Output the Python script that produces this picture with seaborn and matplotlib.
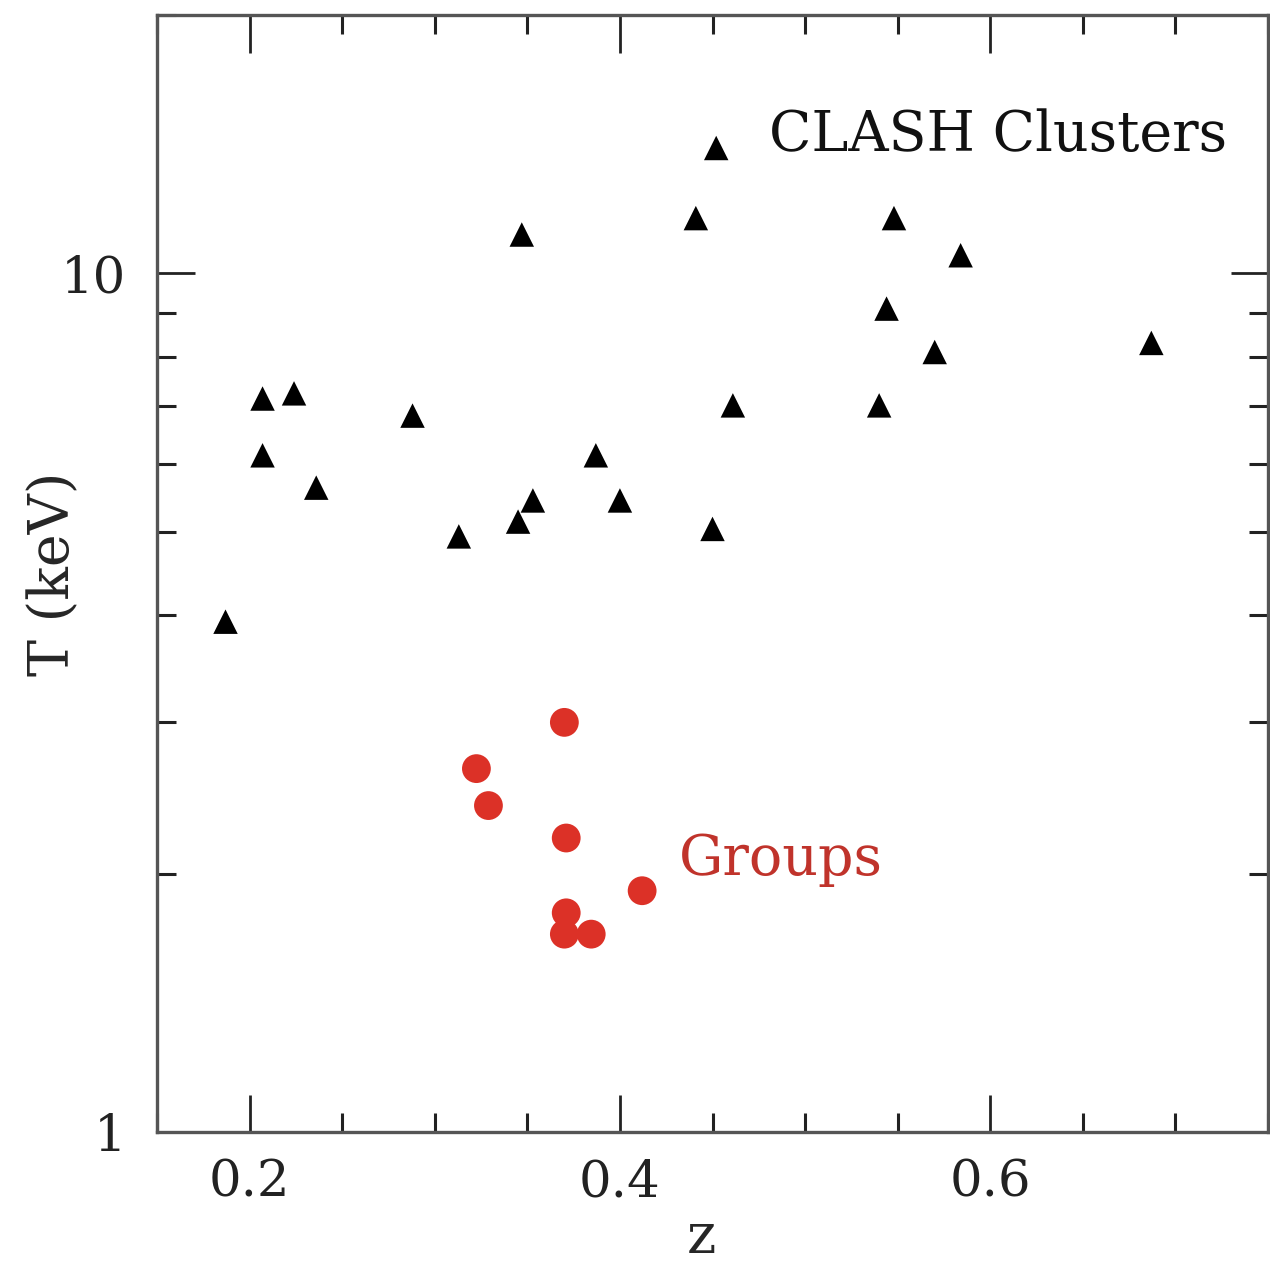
import matplotlib
matplotlib.use("Agg")
import matplotlib.pyplot as plt
import matplotlib.ticker as mticker
import seaborn as sns
import pandas as pd

# CLASH clusters (triangles)
cluster_z = [0.452, 0.441, 0.548, 0.347, 0.584, 0.544, 0.570, 0.687,
             0.207, 0.224, 0.288, 0.461, 0.540, 0.207, 0.387, 0.236,
             0.353, 0.400, 0.345, 0.313, 0.450, 0.187]
cluster_T = [14.0, 11.6, 11.6, 11.1, 10.5, 9.1, 8.1, 8.3,
             7.15, 7.25, 6.83, 7.02, 7.02, 6.14, 6.14, 5.63,
             5.44, 5.44, 5.14, 4.94, 5.04, 3.93]

# Groups (red circles)
group_z = [0.370, 0.3225, 0.329, 0.371, 0.412, 0.371, 0.370, 0.3845]
group_T = [3.00, 2.65, 2.40, 2.20, 1.91, 1.80, 1.70, 1.70]

x_ticks = [0.2, 0.4, 0.6]
x_ticklabels = ["0.2", "0.4", "0.6"]
y_ticks = [1, 10]
y_ticklabels = ["1", "10"]

clusters = pd.DataFrame({"z": cluster_z, "T": cluster_T})
groups = pd.DataFrame({"z": group_z, "T": group_T})

sns.set_theme(style="ticks")
plt.rcParams["font.family"] = ["DejaVu Serif", "DejaVu Sans"]

fig = plt.figure(figsize=(12.70, 12.64), dpi=100)
ax = fig.add_axes([157 / 1270, 1 - 1132 / 1264, (1268 - 157) / 1270, (1132 - 15) / 1264])

sns.scatterplot(data=clusters, x="z", y="T", marker="^", s=310, color="black",
                edgecolor="none", ax=ax, legend=False)
sns.scatterplot(data=groups, x="z", y="T", marker="o", s=430, color="#dc3127",
                edgecolor="none", ax=ax, legend=False)

ax.set_yscale("log")
ax.set_xlim(0.15, 0.75)
ax.set_ylim(1, 20)

ax.xaxis.set_major_locator(mticker.FixedLocator(x_ticks))
ax.xaxis.set_major_formatter(mticker.FixedFormatter(x_ticklabels))
ax.xaxis.set_minor_locator(mticker.MultipleLocator(0.05))
ax.yaxis.set_major_locator(mticker.FixedLocator(y_ticks))
ax.yaxis.set_major_formatter(mticker.FixedFormatter(y_ticklabels))
ax.yaxis.set_minor_locator(mticker.LogLocator(base=10, subs=range(2, 10), numticks=20))
ax.yaxis.set_minor_formatter(mticker.NullFormatter())

ax.tick_params(which="both", direction="in", top=True, right=True,
               labelsize=37, colors="#222222")
ax.tick_params(which="major", length=27, width=2)
ax.tick_params(which="minor", length=14, width=2.2)
ax.tick_params(axis="x", which="major", pad=19)
ax.tick_params(axis="y", which="major", pad=22)

for sp in ax.spines.values():
    sp.set_linewidth(2.4)
    sp.set_color("#555555")

ax.set_xlabel("z", fontsize=40)
ax.set_ylabel("T (keV)", fontsize=40)
ax.xaxis.set_label_coords(0.49, -0.070)
ax.yaxis.set_label_coords(-0.068, 0.5)

ax.text(0.4805, 13.9, "CLASH Clusters", fontsize=40, color="#111111",
        ha="left", va="baseline")
ax.text(0.432, 1.99, "Groups", fontsize=40, color="#c0332b",
        ha="left", va="baseline")

fig.savefig("out.png", dpi=100)
